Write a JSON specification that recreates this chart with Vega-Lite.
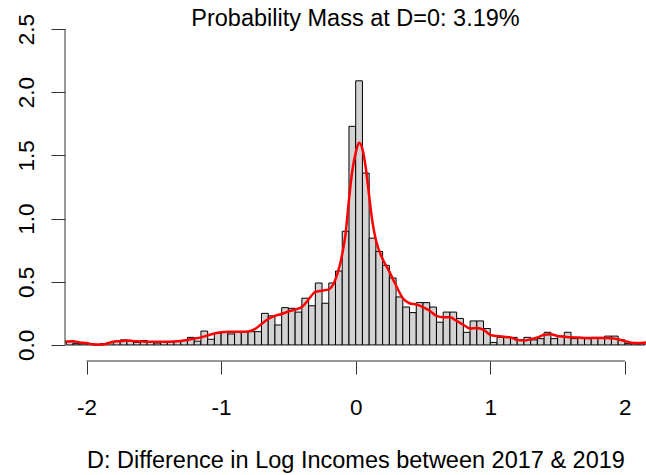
{
  "$schema": "https://vega.github.io/schema/vega-lite/v6.json",
  "autosize": {"type": "none"},
  "padding": {"left": 65, "top": 29, "right": 0, "bottom": 114},
  "width": 581,
  "height": 332,
  "background": "white",
  "config": {
    "view": {"stroke": null},
    "font": "Liberation Sans"
  },
  "title": {
    "text": "Probability Mass at D=0: 3.19%",
    "font": "Liberation Sans",
    "fontSize": 23.5,
    "fontWeight": "normal",
    "color": "#000000",
    "anchor": "middle",
    "frame": "group",
    "baseline": "alphabetic",
    "offset": 2,
    "dy": 38
  },
  "datasets": {
    "bins": [
      {"a": -2.15, "b": -2.10, "h": 0.03},
      {"a": -2.10, "b": -2.05, "h": 0.01},
      {"a": -2.05, "b": -2.00, "h": 0.01},
      {"a": -2.00, "b": -1.95, "h": 0.01},
      {"a": -1.95, "b": -1.90, "h": 0.0},
      {"a": -1.90, "b": -1.85, "h": 0.01},
      {"a": -1.85, "b": -1.80, "h": 0.02},
      {"a": -1.80, "b": -1.75, "h": 0.03},
      {"a": -1.75, "b": -1.70, "h": 0.04},
      {"a": -1.70, "b": -1.65, "h": 0.03},
      {"a": -1.65, "b": -1.60, "h": 0.02},
      {"a": -1.60, "b": -1.55, "h": 0.035},
      {"a": -1.55, "b": -1.50, "h": 0.02},
      {"a": -1.50, "b": -1.45, "h": 0.015},
      {"a": -1.45, "b": -1.40, "h": 0.02},
      {"a": -1.40, "b": -1.35, "h": 0.02},
      {"a": -1.35, "b": -1.30, "h": 0.03},
      {"a": -1.30, "b": -1.25, "h": 0.035},
      {"a": -1.25, "b": -1.20, "h": 0.06},
      {"a": -1.20, "b": -1.15, "h": 0.03},
      {"a": -1.15, "b": -1.10, "h": 0.11},
      {"a": -1.10, "b": -1.05, "h": 0.045},
      {"a": -1.05, "b": -1.00, "h": 0.092},
      {"a": -1.00, "b": -0.95, "h": 0.105},
      {"a": -0.95, "b": -0.90, "h": 0.087},
      {"a": -0.90, "b": -0.85, "h": 0.105},
      {"a": -0.85, "b": -0.80, "h": 0.105},
      {"a": -0.80, "b": -0.75, "h": 0.105},
      {"a": -0.75, "b": -0.70, "h": 0.105},
      {"a": -0.70, "b": -0.65, "h": 0.25},
      {"a": -0.65, "b": -0.60, "h": 0.23},
      {"a": -0.60, "b": -0.55, "h": 0.158},
      {"a": -0.55, "b": -0.50, "h": 0.295},
      {"a": -0.50, "b": -0.45, "h": 0.29},
      {"a": -0.45, "b": -0.40, "h": 0.26},
      {"a": -0.40, "b": -0.35, "h": 0.37},
      {"a": -0.35, "b": -0.30, "h": 0.31},
      {"a": -0.30, "b": -0.25, "h": 0.49},
      {"a": -0.25, "b": -0.20, "h": 0.33},
      {"a": -0.20, "b": -0.15, "h": 0.49},
      {"a": -0.15, "b": -0.10, "h": 0.585},
      {"a": -0.10, "b": -0.05, "h": 0.90},
      {"a": -0.05, "b": 0.00, "h": 1.73},
      {"a": 0.00, "b": 0.05, "h": 2.09},
      {"a": 0.05, "b": 0.10, "h": 1.36},
      {"a": 0.10, "b": 0.15, "h": 0.845},
      {"a": 0.15, "b": 0.20, "h": 0.74},
      {"a": 0.20, "b": 0.25, "h": 0.63},
      {"a": 0.25, "b": 0.30, "h": 0.53},
      {"a": 0.30, "b": 0.35, "h": 0.38},
      {"a": 0.35, "b": 0.40, "h": 0.30},
      {"a": 0.40, "b": 0.45, "h": 0.256},
      {"a": 0.45, "b": 0.50, "h": 0.335},
      {"a": 0.50, "b": 0.55, "h": 0.335},
      {"a": 0.55, "b": 0.60, "h": 0.30},
      {"a": 0.60, "b": 0.65, "h": 0.18},
      {"a": 0.65, "b": 0.70, "h": 0.26},
      {"a": 0.70, "b": 0.75, "h": 0.26},
      {"a": 0.75, "b": 0.80, "h": 0.21},
      {"a": 0.80, "b": 0.85, "h": 0.10},
      {"a": 0.85, "b": 0.90, "h": 0.19},
      {"a": 0.90, "b": 0.95, "h": 0.19},
      {"a": 0.95, "b": 1.00, "h": 0.13},
      {"a": 1.00, "b": 1.05, "h": 0.02},
      {"a": 1.05, "b": 1.10, "h": 0.06},
      {"a": 1.10, "b": 1.15, "h": 0.06},
      {"a": 1.15, "b": 1.20, "h": 0.06},
      {"a": 1.20, "b": 1.25, "h": 0.04},
      {"a": 1.25, "b": 1.30, "h": 0.06},
      {"a": 1.30, "b": 1.35, "h": 0.04},
      {"a": 1.35, "b": 1.40, "h": 0.05},
      {"a": 1.40, "b": 1.45, "h": 0.10},
      {"a": 1.45, "b": 1.50, "h": 0.05},
      {"a": 1.50, "b": 1.55, "h": 0.07},
      {"a": 1.55, "b": 1.60, "h": 0.10},
      {"a": 1.60, "b": 1.65, "h": 0.05},
      {"a": 1.65, "b": 1.70, "h": 0.06},
      {"a": 1.70, "b": 1.75, "h": 0.05},
      {"a": 1.75, "b": 1.80, "h": 0.06},
      {"a": 1.80, "b": 1.85, "h": 0.06},
      {"a": 1.85, "b": 1.90, "h": 0.07},
      {"a": 1.90, "b": 1.95, "h": 0.07},
      {"a": 1.95, "b": 2.00, "h": 0.04},
      {"a": 2.00, "b": 2.05, "h": 0.01},
      {"a": 2.05, "b": 2.10, "h": 0.01},
      {"a": 2.10, "b": 2.15, "h": 0.01}
    ],
    "dens": [
      {"x": -2.16, "d": 0.025},
      {"x": -2.10, "d": 0.03},
      {"x": -2.05, "d": 0.02},
      {"x": -2.00, "d": 0.015},
      {"x": -1.95, "d": 0.005},
      {"x": -1.90, "d": 0.003},
      {"x": -1.85, "d": 0.01},
      {"x": -1.80, "d": 0.025},
      {"x": -1.75, "d": 0.03},
      {"x": -1.70, "d": 0.035},
      {"x": -1.65, "d": 0.03},
      {"x": -1.60, "d": 0.028},
      {"x": -1.55, "d": 0.025},
      {"x": -1.50, "d": 0.025},
      {"x": -1.45, "d": 0.025},
      {"x": -1.40, "d": 0.025},
      {"x": -1.35, "d": 0.027},
      {"x": -1.30, "d": 0.032},
      {"x": -1.25, "d": 0.04},
      {"x": -1.20, "d": 0.05},
      {"x": -1.15, "d": 0.06},
      {"x": -1.10, "d": 0.075},
      {"x": -1.05, "d": 0.09},
      {"x": -1.00, "d": 0.10},
      {"x": -0.95, "d": 0.105},
      {"x": -0.90, "d": 0.105},
      {"x": -0.85, "d": 0.105},
      {"x": -0.80, "d": 0.107},
      {"x": -0.75, "d": 0.125},
      {"x": -0.70, "d": 0.165},
      {"x": -0.65, "d": 0.205},
      {"x": -0.60, "d": 0.23},
      {"x": -0.55, "d": 0.245},
      {"x": -0.50, "d": 0.265},
      {"x": -0.45, "d": 0.28},
      {"x": -0.40, "d": 0.30},
      {"x": -0.35, "d": 0.36},
      {"x": -0.30, "d": 0.42},
      {"x": -0.25, "d": 0.43},
      {"x": -0.20, "d": 0.44},
      {"x": -0.15, "d": 0.52},
      {"x": -0.10, "d": 0.72},
      {"x": -0.075, "d": 0.88},
      {"x": -0.05, "d": 1.15},
      {"x": -0.025, "d": 1.38},
      {"x": 0.00, "d": 1.52},
      {"x": 0.025, "d": 1.60},
      {"x": 0.05, "d": 1.55},
      {"x": 0.075, "d": 1.40},
      {"x": 0.10, "d": 1.18},
      {"x": 0.125, "d": 0.97},
      {"x": 0.15, "d": 0.83},
      {"x": 0.20, "d": 0.68},
      {"x": 0.25, "d": 0.58},
      {"x": 0.30, "d": 0.47},
      {"x": 0.35, "d": 0.37},
      {"x": 0.40, "d": 0.33},
      {"x": 0.45, "d": 0.32},
      {"x": 0.50, "d": 0.30},
      {"x": 0.55, "d": 0.27},
      {"x": 0.60, "d": 0.23},
      {"x": 0.65, "d": 0.22},
      {"x": 0.70, "d": 0.22},
      {"x": 0.75, "d": 0.19},
      {"x": 0.80, "d": 0.16},
      {"x": 0.85, "d": 0.13},
      {"x": 0.90, "d": 0.135},
      {"x": 0.95, "d": 0.12},
      {"x": 1.00, "d": 0.08},
      {"x": 1.05, "d": 0.07},
      {"x": 1.10, "d": 0.065},
      {"x": 1.15, "d": 0.06},
      {"x": 1.20, "d": 0.04},
      {"x": 1.25, "d": 0.035},
      {"x": 1.30, "d": 0.045},
      {"x": 1.35, "d": 0.06},
      {"x": 1.40, "d": 0.08},
      {"x": 1.45, "d": 0.085},
      {"x": 1.50, "d": 0.07},
      {"x": 1.55, "d": 0.065},
      {"x": 1.60, "d": 0.06},
      {"x": 1.65, "d": 0.058},
      {"x": 1.70, "d": 0.055},
      {"x": 1.75, "d": 0.055},
      {"x": 1.80, "d": 0.055},
      {"x": 1.85, "d": 0.055},
      {"x": 1.90, "d": 0.053},
      {"x": 1.95, "d": 0.045},
      {"x": 2.00, "d": 0.03},
      {"x": 2.05, "d": 0.018},
      {"x": 2.10, "d": 0.015},
      {"x": 2.16, "d": 0.02}
    ]
  },
  "layer": [
    {
      "data": {"name": "bins"},
      "mark": {"type": "bar", "fill": "#d3d3d3", "stroke": "#000000", "strokeWidth": 1, "clip": true},
      "encoding": {
        "x": {
          "field": "a", "type": "quantitative",
          "scale": {"domain": [-2.16, 2.157], "nice": false, "zero": false},
          "axis": {
            "values": [-2, -1, 0, 1, 2],
            "labelExpr": "'' + datum.value",
            "domain": false, "grid": false,
            "tickSize": 13, "tickColor": "#333333", "tickWidth": 1,
            "labelFont": "Liberation Sans", "labelFontSize": 22.5, "labelColor": "#000000",
            "labelPadding": 22, "labelFlush": false, "labelOverlap": false,
            "title": "D: Difference in Log Incomes between 2017 & 2019",
            "titleFont": "Liberation Sans", "titleFontSize": 23.5, "titleFontWeight": "normal",
            "titleColor": "#000000", "titlePadding": 30
          }
        },
        "x2": {"field": "b"},
        "y": {
          "field": "h", "type": "quantitative",
          "scale": {"domain": [-0.127, 2.5], "nice": false, "zero": false},
          "axis": {
            "values": [0, 0.5, 1, 1.5, 2, 2.5],
            "format": ".1f",
            "domain": false, "grid": false,
            "tickSize": 14, "tickColor": "#333333", "tickWidth": 1,
            "labelFont": "Liberation Sans", "labelFontSize": 22.5, "labelColor": "#000000",
            "labelAngle": -90, "labelAlign": "center", "labelBaseline": "alphabetic",
            "labelPadding": 18, "labelFlush": false, "labelOverlap": false,
            "title": null
          }
        },
        "y2": {"datum": 0}
      }
    },
    {
      "data": {"name": "dens"},
      "mark": {"type": "line", "color": "#ff0000", "strokeWidth": 2.5, "clip": true, "interpolate": "monotone"},
      "encoding": {
        "x": {"field": "x", "type": "quantitative"},
        "y": {"field": "d", "type": "quantitative"}
      }
    },
    {
      "data": {"values": [{}]},
      "mark": {"type": "rule", "color": "#333333", "strokeWidth": 1},
      "encoding": {
        "x": {"datum": -2},
        "x2": {"datum": 2},
        "y": {"datum": -0.127}
      }
    },
    {
      "data": {"values": [{}]},
      "mark": {"type": "rule", "color": "#333333", "strokeWidth": 1},
      "encoding": {
        "x": {"datum": -2.16},
        "y": {"datum": 0},
        "y2": {"datum": 2.5}
      }
    }
  ]
}
